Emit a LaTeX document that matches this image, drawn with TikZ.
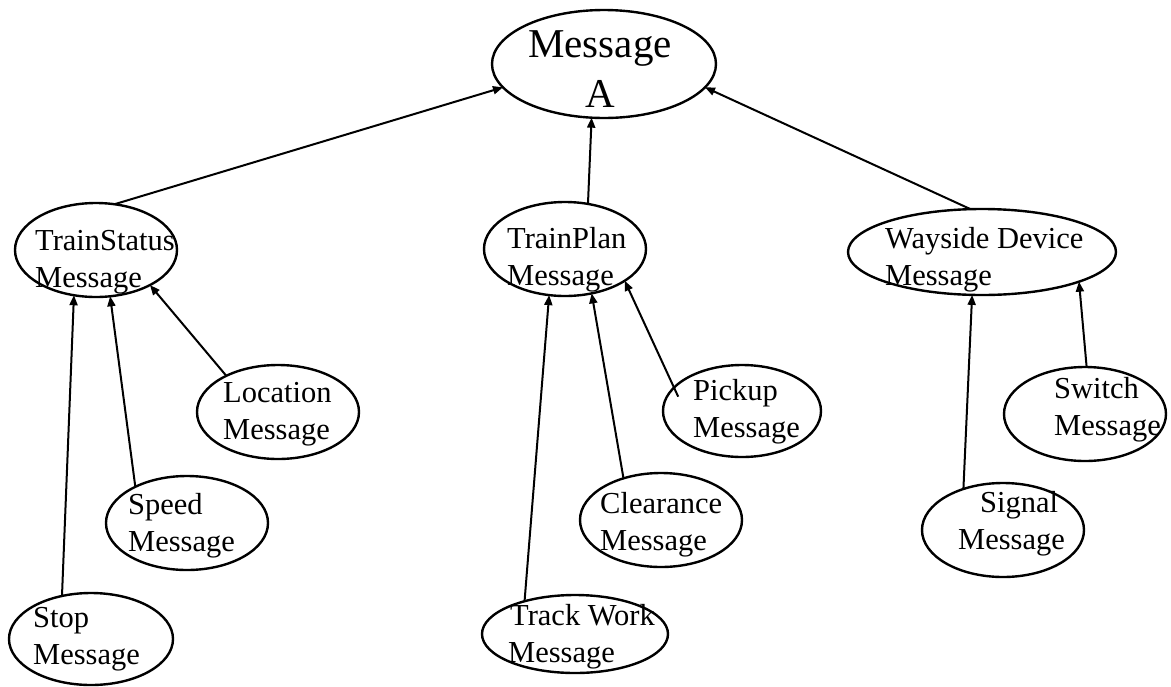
\documentclass[tikz,border=0pt]{standalone}
\usepackage{fontspec}
\setmainfont{Liberation Serif}
\usetikzlibrary{arrows.meta,shapes.geometric}
\begin{document}
\begin{tikzpicture}[x=1pt,y=-1pt,
  oval/.style={draw, ellipse, line width=2.4pt, inner sep=0pt, outer sep=0pt},
  small/.style={oval, minimum width=162pt, minimum height=94pt},
  lbl/.style={anchor=base west, inner sep=0pt, font=\fontsize{30.5}{37}\selectfont},
  link/.style={line width=2pt, -{Triangle[length=10pt,width=8pt]}}]
\useasboundingbox (0,0) rectangle (1171,686);
% ellipses
\node[oval, minimum width=224pt, minimum height=108pt] (msg) at (604,64) {};
\node[small] (ts) at (96,250) {};
\node[small] (loc) at (278,412) {};
\node[small] (spd) at (187,523) {};
\node[small, minimum width=164pt, minimum height=92pt] (stp) at (91,639) {};
\node[small] (tp) at (565,249) {};
\node[small, minimum width=158pt, minimum height=92pt] (pick) at (742,411) {};
\node[small] (clr) at (661,520) {};
\node[oval, minimum width=186pt, minimum height=78pt] (tw) at (575,634) {};
\node[oval, minimum width=268pt, minimum height=86pt] (wd) at (982,252) {};
\node[small] (sw) at (1085,414) {};
\node[small] (sig) at (1003,530) {};
% labels
\node[anchor=base, inner sep=0pt, font=\fontsize{41}{50}\selectfont] (msgt) at (600,57)
  {\begin{tabular}[t]{@{}c@{}}Message\\A\end{tabular}};
\node[lbl] (tst) at (35,250) {\begin{tabular}[t]{@{}l@{}}TrainStatus\\Message\end{tabular}};
\node[lbl] (loct) at (223,402) {\begin{tabular}[t]{@{}l@{}}Location\\Message\end{tabular}};
\node[lbl] (spdt) at (128,514) {\begin{tabular}[t]{@{}l@{}}Speed\\Message\end{tabular}};
\node[lbl] (stpt) at (33,627) {\begin{tabular}[t]{@{}l@{}}Stop\\Message\end{tabular}};
\node[lbl] (tpt) at (507,248) {\begin{tabular}[t]{@{}l@{}}TrainPlan\\Message\end{tabular}};
\node[lbl] (pickt) at (693,400) {\begin{tabular}[t]{@{}l@{}}Pickup\\Message\end{tabular}};
\node[lbl] (clrt) at (600,513) {\begin{tabular}[t]{@{}l@{}}Clearance\\Message\end{tabular}};
\node[lbl] (twt) at (508,625) {\begin{tabular}[t]{@{}l@{}}\hspace{2pt}Track Work\\Message\end{tabular}};
\node[lbl] (wdt) at (885,248) {\begin{tabular}[t]{@{}l@{}}Wayside Device\\Message\end{tabular}};
\node[lbl] (swt) at (1054,398) {\begin{tabular}[t]{@{}l@{}}Switch\\Message\end{tabular}};
\node[lbl] (sigt) at (958,512) {\begin{tabular}[t]{@{}l@{}}\hspace{22pt}Signal\\Message\end{tabular}};
% connectors
\draw[link] (ts.68.4) -- (msg.193.2);
\draw[link] (tp.63.9) -- (msg.257.3);
\draw[link] (wd.105.6) -- (msg.347.4);
\draw[link] (loc.145.1) -- (ts.327.3);
\draw[link] (spd.145.3) -- (ts.287.7);
\draw[link] (stp.124.3) -- (ts.244.4);
\draw[link] (tw.147.4) -- (tp.251.9);
\draw[link] (clr.132.2) -- (tp.301.3);
\draw[link, shorten <=-10pt] (pick.161.8) -- (tp.332.4);
\draw[link] (sig.134.3) -- (wd.257.7);
\draw[link] (sw.88.8) -- (wd.343.2);
\end{tikzpicture}
\end{document}
